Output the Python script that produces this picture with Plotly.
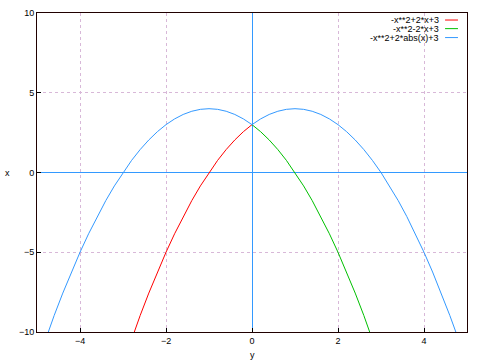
import plotly.graph_objects as go

# Data
red_x = [-3.0, -2.8, -2.6, -2.4, -2.2, -2.0, -1.8, -1.6, -1.4, -1.2, -1.0, -0.8, -0.6, -0.4, -0.2, 0.0]
red_y = [-12.0, -10.44, -8.96, -7.56, -6.24, -5.0, -3.84, -2.76, -1.76, -0.84, 0.0, 0.76, 1.44, 2.04, 2.56, 3.0]
green_x = [0.0, 0.2, 0.4, 0.6, 0.8, 1.0, 1.2, 1.4, 1.6, 1.8, 2.0, 2.2, 2.4, 2.6, 2.8, 3.0]
green_y = [3.0, 2.56, 2.04, 1.44, 0.76, 0.0, -0.84, -1.76, -2.76, -3.84, -5.0, -6.24, -7.56, -8.96, -10.44, -12.0]
blue_x = [-5.0, -4.8, -4.6, -4.4, -4.2, -4.0, -3.8, -3.6, -3.4, -3.2, -3.0, -2.8, -2.6, -2.4, -2.2, -2.0,
          -1.8, -1.6, -1.4, -1.2, -1.0, -0.8, -0.6, -0.4, -0.2, 0.0, 0.2, 0.4, 0.6, 0.8, 1.0, 1.2, 1.4,
          1.6, 1.8, 2.0, 2.2, 2.4, 2.6, 2.8, 3.0, 3.2, 3.4, 3.6, 3.8, 4.0, 4.2, 4.4, 4.6, 4.8, 5.0]
blue_y = [-12.0, -10.44, -8.96, -7.56, -6.24, -5.0, -3.84, -2.76, -1.76, -0.84, 0.0, 0.76, 1.44, 2.04, 2.56, 3.0,
          3.36, 3.64, 3.84, 3.96, 4.0, 3.96, 3.84, 3.64, 3.36, 3.0, 3.36, 3.64, 3.84, 3.96, 4.0, 3.96, 3.84,
          3.64, 3.36, 3.0, 2.56, 2.04, 1.44, 0.76, 0.0, -0.84, -1.76, -2.76, -3.84, -5.0, -6.24, -7.56, -8.96, -10.44, -12.0]
labels = ["-x**2+2*x+3", "-x**2-2*x+3", "-x**2+2*abs(x)+3"]
colors = ["#ff0000", "#00c000", "#3399ff"]
x_ticks = [-4, -2, 0, 2, 4]
y_ticks = [-10, -5, 0, 5, 10]

FONT = "Liberation Sans"
fig = go.Figure()
for xs, ys, c in [(red_x, red_y, colors[0]), (green_x, green_y, colors[1]), (blue_x, blue_y, colors[2])]:
    fig.add_trace(go.Scatter(x=xs, y=ys, mode="lines", line=dict(color=c, width=1), showlegend=False))

axis_common = dict(
    showline=True, linecolor="#200000", linewidth=1, mirror=True,
    ticks="inside", ticklen=4, tickcolor="#000000",
    showgrid=True, gridcolor="#d8b8d8", griddash="dot", gridwidth=1,
    zeroline=True, zerolinecolor="#3399ff", zerolinewidth=1,
    tickfont=dict(family=FONT, size=9, color="#000000"),
)
fig.update_xaxes(range=[-5, 5], tickvals=x_ticks, **axis_common)
fig.update_yaxes(range=[-10, 10], tickvals=y_ticks, **axis_common)

annotations = [
    dict(text="y", x=0.5, y=-0.071, xref="paper", yref="paper", xanchor="center", yanchor="middle",
         showarrow=False, font=dict(family=FONT, size=9, color="#000000")),
    dict(text="x", x=-0.068, y=0.5, xref="paper", yref="paper", xanchor="center", yanchor="middle",
         showarrow=False, font=dict(family=FONT, size=9, color="#000000")),
]
shapes = []
ys_leg = [0.978, 0.951, 0.923]
for lab, c, yl in zip(labels, colors, ys_leg):
    annotations.append(dict(text=lab, x=0.9395, y=yl, xref="paper", yref="paper", xanchor="right",
                            yanchor="middle", showarrow=False, font=dict(family=FONT, size=9, color="#000000")))
    shapes.append(dict(type="line", xref="paper", yref="paper", x0=0.949, x1=0.979, y0=yl, y1=yl,
                       line=dict(color=c, width=1)))

fig.update_layout(
    width=480, height=360,
    margin=dict(l=37, r=13, t=8, b=28),
    plot_bgcolor="#ffffff", paper_bgcolor="#ffffff",
    annotations=annotations, shapes=shapes,
    showlegend=False,
)
fig.write_html("out.html")
